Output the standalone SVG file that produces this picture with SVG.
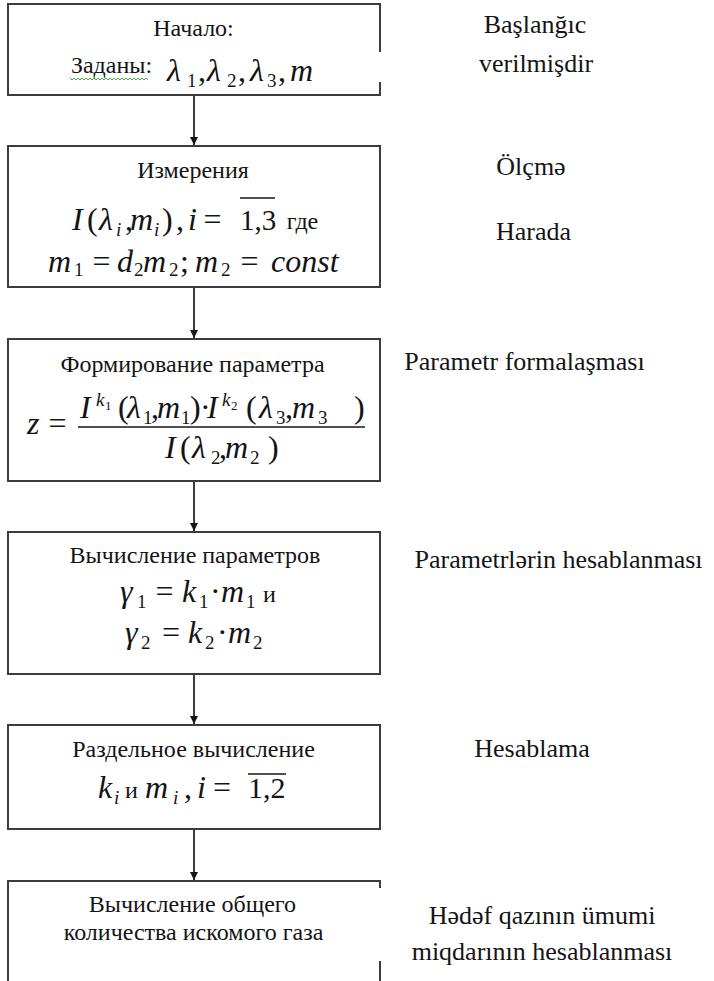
<svg xmlns="http://www.w3.org/2000/svg" width="714" height="981" viewBox="0 0 714 981">
<style>
text { font-family: 'Liberation Serif', serif; fill: #141414; }
.t { font-size: 24px; }
.c { text-anchor: middle; }
.r { font-size: 26px; text-anchor: middle; }
.m { font-size: 32px; }
.i { font-style: italic; }
.s { font-size: 19px; }
.box { fill: none; stroke: #3c3c3c; stroke-width: 2; }
.bar { stroke: #141414; stroke-width: 1.5; fill: none; }
.conn { stroke: #3c3c3c; stroke-width: 2; fill: none; marker-end: url(#arr); }
</style>
<defs>
<marker id="arr" viewBox="0 0 10 10" refX="10" refY="5" markerWidth="10" markerHeight="8" markerUnits="userSpaceOnUse" orient="auto">
<path d="M0,0 L10,5 L0,10 z" fill="#141414"/>
</marker>
</defs>
<rect width="714" height="981" fill="#ffffff"/>

<g id="connectors">
<line class="conn" x1="194" y1="95" x2="194" y2="145"/>
<line class="conn" x1="194" y1="287" x2="194" y2="338"/>
<line class="conn" x1="194" y1="481" x2="194" y2="531"/>
<line class="conn" x1="194" y1="674" x2="194" y2="724"/>
<line class="conn" x1="194" y1="829" x2="194" y2="880"/>
</g>

<g id="n1">
<path class="box" d="M380,52 L380,4 L8,4 L8,95 L380,95 L380,82"/>
<text class="t c" x="193.5" y="36">Начало:</text>
<text class="t c" x="111.5" y="73">Заданы:</text>
<polyline points="70,78 72,80 74,78 76,80 78,78 80,80 82,78 84,80 86,78 88,80 90,78 92,80 94,78 96,80 98,78 100,80 102,78 104,80 106,78 108,80 110,78 112,80 114,78 116,80 118,78 120,80 122,78 124,80 126,78 128,80 130,78 132,80 134,78 136,80 138,78 140,80 142,78 144,80 146,78 148,80" fill="none" stroke="#3fae3f" stroke-width="1"/>
<text class="m"><tspan class="i" x="167" y="81">λ</tspan><tspan class="s" x="187" y="87">1</tspan><tspan x="198" y="81">,</tspan><tspan class="i" x="207" y="81">λ</tspan><tspan class="s" x="227" y="87">2</tspan><tspan x="238" y="81">,</tspan><tspan class="i" x="250" y="81">λ</tspan><tspan class="s" x="267" y="87">3</tspan><tspan x="278" y="81">,</tspan><tspan class="i" x="290" y="81">m</tspan></text>
</g>

<g id="n2">
<rect class="box" x="8" y="146" width="372" height="141"/>
<text class="t c" x="193" y="178">Измерения</text>
<text class="m"><tspan class="i" x="72" y="230">I</tspan><tspan x="87" y="230">(</tspan><tspan class="i" x="99" y="230">λ</tspan><tspan class="s i" x="116" y="236">i</tspan><tspan x="125" y="230">,</tspan><tspan class="i" x="130" y="230">m</tspan><tspan class="s i" x="154" y="236">i</tspan><tspan x="162" y="230">)</tspan><tspan x="176" y="230">,</tspan><tspan class="i" x="188" y="230">i</tspan><tspan x="203.5" y="230">=</tspan><tspan x="240" y="230" style="font-size:29px">1,3</tspan></text>
<line class="bar" x1="240" y1="198" x2="275" y2="198"/>
<text class="t c" x="302.5" y="229">где</text>
<text class="m"><tspan class="i" x="48" y="272">m</tspan><tspan class="s" x="74" y="276">1</tspan><tspan x="92.5" y="272">=</tspan><tspan class="i" x="117" y="272">d</tspan><tspan class="s" x="134" y="276">2</tspan><tspan class="i" x="143" y="272">m</tspan><tspan class="s" x="169" y="276">2</tspan><tspan x="180" y="272">;</tspan><tspan class="i" x="195" y="272">m</tspan><tspan class="s" x="221" y="276">2</tspan><tspan x="240.5" y="272">=</tspan><tspan class="i" x="271" y="272">const</tspan></text>
</g>

<g id="n3">
<rect class="box" x="8" y="339" width="372" height="142"/>
<text class="t c" x="192.5" y="372">Формирование параметра</text>
<text class="m"><tspan class="i" x="27" y="434">z</tspan><tspan x="48.5" y="434">=</tspan></text>
<text class="m"><tspan class="i" x="80" y="418">I</tspan><tspan class="s i" x="96" y="406">k</tspan><tspan x="105" y="410" style="font-size:13px">1</tspan><tspan x="118" y="418">(</tspan><tspan class="i" x="127" y="418">λ</tspan><tspan class="s" x="143" y="424">1</tspan><tspan x="151" y="418">,</tspan><tspan class="i" x="157" y="418">m</tspan><tspan class="s" x="181" y="424">1</tspan><tspan x="190" y="418">)</tspan><tspan x="200" y="418">·</tspan><tspan class="i" x="207" y="418">I</tspan><tspan class="s i" x="222" y="406">k</tspan><tspan x="231" y="410" style="font-size:13px">2</tspan><tspan x="246" y="418">(</tspan><tspan class="i" x="259" y="418">λ</tspan><tspan class="s" x="276" y="424">3</tspan><tspan x="285" y="418">,</tspan><tspan class="i" x="292" y="418">m</tspan><tspan class="s" x="318" y="424">3</tspan><tspan x="354" y="418">)</tspan></text>
<line x1="78" y1="427" x2="365" y2="427" stroke="#141414" stroke-width="1.5"/>
<text class="m"><tspan class="i" x="165" y="458">I</tspan><tspan x="180" y="458">(</tspan><tspan class="i" x="192" y="458">λ</tspan><tspan class="s" x="211" y="464">2</tspan><tspan x="219" y="458">,</tspan><tspan class="i" x="225" y="458">m</tspan><tspan class="s" x="250" y="464">2</tspan><tspan x="268" y="458">)</tspan></text>
</g>

<g id="n4">
<rect class="box" x="8" y="532" width="372" height="142"/>
<text class="t c" x="195" y="563">Вычисление параметров</text>
<text class="m"><tspan class="i" x="120" y="602">γ</tspan><tspan class="s" x="137" y="608">1</tspan><tspan x="155.5" y="602">=</tspan><tspan class="i" x="182" y="602">k</tspan><tspan class="s" x="199" y="608">1</tspan><tspan x="210" y="602">·</tspan><tspan class="i" x="221" y="602">m</tspan><tspan class="s" x="246" y="608">1</tspan></text>
<text class="t" x="263" y="602">и</text>
<text class="m"><tspan class="i" x="125" y="643">γ</tspan><tspan class="s" x="141" y="649">2</tspan><tspan x="162" y="643">=</tspan><tspan class="i" x="188" y="643">k</tspan><tspan class="s" x="205" y="649">2</tspan><tspan x="217" y="643">·</tspan><tspan class="i" x="228" y="643">m</tspan><tspan class="s" x="253" y="649">2</tspan></text>
</g>

<g id="n5">
<rect class="box" x="8" y="725" width="372" height="104"/>
<text class="t c" x="193.5" y="757">Раздельное вычисление</text>
<text class="m"><tspan class="i" x="98" y="798">k</tspan><tspan class="s i" x="114" y="804">i</tspan></text>
<text class="t" x="125" y="798">и</text>
<text class="m"><tspan class="i" x="145" y="798">m</tspan><tspan class="s i" x="173" y="804">i</tspan><tspan x="184" y="798">,</tspan><tspan class="i" x="197" y="798">i</tspan><tspan x="213" y="798">=</tspan><tspan x="248" y="798" style="font-size:30px">1,2</tspan></text>
<line class="bar" x1="248" y1="774" x2="286" y2="774"/>
</g>

<g id="n6">
<path class="box" d="M380,888 L380,881 L8,881 L8,985 M380,961 L380,985"/>
<text class="t c" x="192.5" y="912">Вычисление общего</text>
<text class="t c" x="193.5" y="940">количества искомого газа</text>
</g>

<g id="labels">
<text class="r" x="535" y="33">Başlanğıc</text>
<text class="r" x="536" y="72">verilmişdir</text>
<text class="r" x="531" y="175">Ölçmə</text>
<text class="r" x="533.5" y="240">Harada</text>
<text class="r" x="524.5" y="370">Parametr formalaşması</text>
<text class="r" x="558.5" y="568">Parametrlərin hesablanması</text>
<text class="r" x="532" y="757">Hesablama</text>
<text class="r" x="542" y="924">Hədəf qazının ümumi</text>
<text class="r" x="542" y="960">miqdarının hesablanması</text>
</g>
</svg>
